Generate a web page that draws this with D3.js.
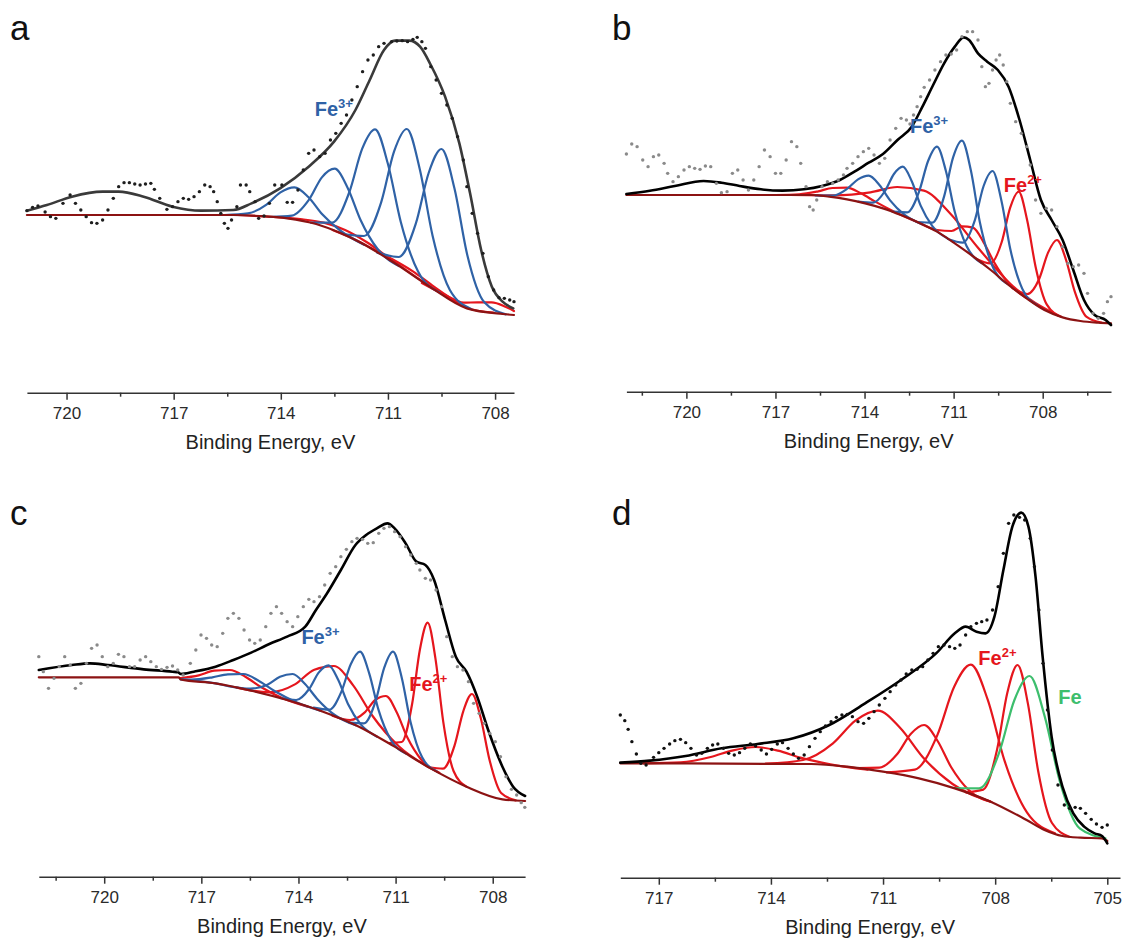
<!DOCTYPE html>
<html>
<head>
<meta charset="utf-8">
<script src="https://cdn.jsdelivr.net/npm/d3@7"></script>
<style>
  body { margin: 0; background: #fff; }
  svg { display: block; font-family: "Liberation Sans", Arial, Helvetica, sans-serif; }
</style>
</head>
<body>
<svg id="chart" width="1123" height="940"></svg>
<script>
// ---------------- DATA (binding energy in eV, intensity in a.u.) ----------------
const majorTicksABC = [720, 717, 714, 711, 708];
const majorTicksD = [717, 714, 711, 708, 705];
const minorTicksA = [718.5, 715.5, 712.5, 709.5];
const minorTicksB = [721.5, 718.5, 715.5, 712.5, 709.5, 706.5];
const minorTicksC = [721.5, 718.5, 715.5, 712.5, 709.5];
const minorTicksD = [715.5, 712.5, 709.5, 706.5];
const axisTitle = "Binding Energy, eV";

// ----- panel a -----
const aDots = [[721.11,313],[720.95,323],[720.80,327],[720.60,309],[720.45,295],[720.30,290],[720.10,335],[719.90,360],[719.75,335],[719.60,315],[719.45,295],[719.30,277],[719.15,275],[718.99,285],[718.84,315],[718.69,350],[718.54,385],[718.39,397],[718.24,397],[718.09,393],[717.94,390],[717.79,393],[717.64,395],[717.54,377],[717.39,350],[717.19,317],[717.03,325],[716.88,340],[716.73,350],[716.58,347],[716.43,355],[716.28,370],[716.13,390],[715.98,385],[715.88,370],[715.78,340],[715.68,305],[715.58,275],[715.48,260],[715.38,285],[715.23,325],[715.13,390],[714.97,390],[714.87,370],[714.72,340],[714.62,290],[714.47,297],[714.32,335],[714.17,390],[713.97,390],[713.82,338],[713.67,338],[713.52,375],[713.37,435],[713.22,485],[713.07,495],[712.91,475],[712.76,485],[712.61,525],[712.46,545],[712.31,575],[712.16,600],[712.01,645],[711.86,685],[711.71,730],[711.56,765],[711.41,780],[711.26,805],[711.11,815],[710.90,820],[710.75,822],[710.60,823],[710.45,820],[710.30,827],[710.18,833],[710.05,820],[709.95,800],[709.80,745],[709.65,705],[709.50,665],[709.35,630],[709.20,590],[709.05,535],[708.89,465],[708.79,385],[708.64,305],[708.49,245],[708.34,185],[708.19,115],[708.04,75],[707.89,52],[707.74,50],[707.59,45],[707.47,40]];
const aEnvelope = [[721.11,313],[720.55,330],[719.85,355],[718.99,370],[718.54,370],[717.84,355],[717.03,325],[716.23,313],[715.33,315],[714.82,335],[714.02,380],[713.22,445],[712.51,520],[711.91,615],[711.51,705],[711.11,795],[710.80,823],[710.40,823],[710.10,805],[709.80,750],[709.40,655],[709.00,515],[708.70,365],[708.39,195],[708.09,85],[707.79,40],[707.49,20]];
const aBackground = [[721.11,300],[715.33,300],[714.62,297],[713.82,290],[713.01,273],[712.31,245],[711.81,220],[710.80,155],[709.80,83],[708.79,20],[707.79,3],[707.47,0]];
const aFe3 = [
  [[715.57,300],[714.92,305],[714.40,331],[714.01,368],[713.62,383],[713.23,354],[712.84,302],[712.32,252],[711.67,211]],
  [[714.29,294],[713.69,298],[713.21,346],[712.85,413],[712.49,439],[712.13,382],[711.77,286],[711.29,198],[710.69,147]],
  [[713.16,277],[712.56,277],[712.08,369],[711.72,499],[711.36,557],[711.00,453],[710.64,279],[710.16,131],[709.56,68]],
  [[712.27,243],[711.67,237],[711.19,338],[710.83,490],[710.47,558],[710.11,438],[709.75,238],[709.27,76],[708.67,18]],
  [[711.30,187],[710.70,174],[710.22,274],[709.86,426],[709.50,498],[709.14,381],[708.78,181],[708.30,38],[707.70,2]]
];
const aFe2 = [
  [[715.2,300],[714.2,294],[713.4,287],[712.8,277],[712.2,255],[711.6,219],[711.0,174],[710.2,113],[709.2,46]],
  [[712.55,255],[711.8,220],[711.2,185],[710.75,160],[710.3,131],[709.85,96],[709.4,62],[708.8,22],[708.05,7]],
  [[710.05,96],[709.40,60],[708.88,37],[708.49,38],[708.10,38],[707.71,25],[707.47,12]]
];

// ----- panel b -----
const bDots = [[722.02,508],[721.84,538],[721.66,530],[721.47,490],[721.29,470],[721.11,500],[720.93,505],[720.75,480],[720.63,450],[720.45,425],[720.27,440],[720.08,460],[719.90,470],[719.72,465],[719.54,462],[719.36,472],[719.18,470],[718.99,420],[718.82,392],[718.63,395],[718.45,450],[718.27,460],[718.09,430],[717.91,400],[717.73,430],[717.55,470],[717.37,520],[717.18,500],[717.00,450],[716.82,450],[716.64,490],[716.46,545],[716.28,530],[716.15,480],[715.97,410],[715.85,350],[715.73,340],[715.61,370],[715.43,410],[715.25,425],[715.07,420],[714.89,430],[714.71,445],[714.59,465],[714.40,480],[714.22,500],[714.04,515],[713.86,525],[713.68,505],[713.50,480],[713.32,495],[713.14,550],[712.95,585],[712.77,615],[712.59,610],[712.47,598],[712.35,625],[712.23,650],[712.11,680],[711.99,708],[711.81,730],[711.63,760],[711.44,785],[711.26,805],[711.08,808],[710.90,820],[710.72,860],[710.54,875],[710.36,875],[710.18,850],[710.05,770],[709.93,710],[709.81,720],[709.69,760],[709.57,790],[709.45,805],[709.33,775],[709.21,725],[709.09,660],[708.91,605],[708.72,570],[708.54,530],[708.42,475],[708.24,370],[708.06,330],[707.88,345],[707.70,340],[707.52,290],[707.33,230],[707.15,180],[706.97,170],[706.79,175],[706.61,150],[706.49,90],[706.31,30],[706.13,15],[705.95,30],[705.82,65],[705.70,80]];
const bEnvelope = [[722.02,388],[721.23,398],[720.39,412],[719.42,427],[718.82,422],[718.21,412],[717.49,402],[716.76,398],[716.04,402],[715.43,412],[714.83,430],[714.34,455],[713.86,482],[713.38,508],[712.89,550],[712.41,590],[712.05,650],[711.69,715],[711.32,780],[710.96,830],[710.66,858],[710.48,850],[710.18,810],[709.87,785],[709.51,760],[709.15,710],[708.78,610],[708.42,490],[708.06,370],[707.70,310],[707.33,250],[706.97,160],[706.61,70],[706.25,25],[705.88,10],[705.70,-5]];
const bBackground = [[722.02,385],[715.79,385],[715.19,380],[714.59,372],[713.98,360],[713.38,345],[712.77,325],[712.17,302],[711.56,275],[710.96,240],[710.36,202],[709.75,160],[709.15,115],[708.54,75],[707.94,40],[707.33,18],[706.73,7],[706.13,2],[705.70,0]];
const bFe3 = [
  [[715.66,384],[715.06,383],[714.58,404],[714.22,432],[713.86,443],[713.50,415],[713.14,369],[712.66,326],[712.06,297]],
  [[714.21,365],[713.71,362],[713.31,397],[713.01,448],[712.71,470],[712.41,426],[712.11,353],[711.71,291],[711.21,255]],
  [[713.06,335],[712.56,333],[712.16,396],[711.86,487],[711.56,530],[711.26,457],[710.96,334],[710.56,231],[710.06,181]],
  [[712.22,304],[711.72,302],[711.32,381],[711.02,497],[710.72,548],[710.42,459],[710.12,305],[709.72,178],[709.22,120]],
  [[711.19,253],[710.69,242],[710.29,308],[709.99,412],[709.69,457],[709.39,368],[709.09,222],[708.69,104],[708.19,55]]
];
const bFe2 = [
  [[717.0,385],[716.2,387],[715.56,396],[715.08,406],[714.60,407],[714.12,390],[713.64,365],[713.0,335],[712.2,303]],
  [[716.5,385],[715.0,384],[713.8,393],[712.9,409],[712.0,398],[711.1,328],[710.2,229],[709.0,111],[707.5,24]],
  [[712.15,301],[711.55,280],[711.07,277],[710.71,291],[710.35,287],[709.99,243],[709.63,182],[709.15,120],[708.55,76]],
  [[710.24,194],[709.76,180],[709.38,244],[709.095,347],[708.81,395],[708.525,310],[708.24,170],[707.86,56],[707.38,20]],
  [[709.02,106],[708.52,88],[708.12,133],[707.82,212],[707.52,250],[707.22,192],[706.92,95],[706.52,19],[706.02,2]]
];

// ----- panel c -----
const cDots = [[722.02,435],[721.88,390],[721.72,340],[721.55,370],[721.39,405],[721.22,435],[721.05,410],[720.89,340],[720.72,355],[720.55,415],[720.39,460],[720.22,470],[720.06,435],[719.89,405],[719.72,415],[719.56,442],[719.39,435],[719.22,405],[719.06,405],[718.89,425],[718.72,435],[718.56,420],[718.39,405],[718.23,397],[718.06,403],[717.89,407],[717.73,395],[717.56,380],[717.34,415],[717.17,455],[717.01,500],[716.84,490],[716.68,470],[716.51,465],[716.34,505],[716.18,550],[716.01,565],[715.84,550],[715.68,515],[715.51,485],[715.35,475],[715.18,485],[715.01,525],[714.85,565],[714.68,585],[714.52,565],[714.35,540],[714.18,525],[714.02,555],[713.85,585],[713.68,607],[713.52,600],[713.35,615],[713.19,650],[713.02,685],[712.85,705],[712.69,735],[712.52,757],[712.35,780],[712.19,790],[712.02,787],[711.86,775],[711.69,777],[711.52,805],[711.36,820],[711.19,825],[711.03,810],[710.86,795],[710.69,765],[710.53,740],[710.36,715],[710.25,695],[710.08,670],[709.92,665],[709.75,635],[709.58,585],[709.42,495],[709.25,435],[709.09,405],[708.92,395],[708.75,360],[708.59,295],[708.42,265],[708.26,235],[708.09,205],[707.92,180],[707.76,135],[707.59,75],[707.42,37],[707.26,20],[707.12,-3],[707.01,-17]];
const cEnvelope = [[722.02,395],[721.0,410],[720.44,415],[719.89,410],[718.78,397],[717.89,390],[717.71,388],[717.64,383],[717.23,390],[716.56,405],[716.01,425],[715.46,447],[714.90,473],[714.35,495],[713.79,525],[713.46,575],[713.13,623],[712.69,695],[712.24,770],[711.91,800],[711.58,820],[711.25,835],[711.03,820],[710.69,775],[710.36,720],[710.08,710],[709.81,665],[709.47,545],[709.14,435],[708.81,390],[708.48,315],[708.14,215],[707.70,105],[707.37,45],[707.0,17]];
const cBackground = [[722.02,373],[717.70,373],[717.64,367],[716.56,355],[715.46,333],[714.35,305],[713.24,270],[712.13,225],[711.03,165],[709.92,100],[708.81,45],[707.70,7],[707.0,2]];
const cFe3 = [
  [[717.64,368],[717.30,366],[716.66,373],[716.18,382],[715.70,383],[715.22,362],[714.74,332],[714.10,300],[713.30,272]],
  [[717.64,367],[716.56,355],[716.13,346],[715.48,339],[714.96,351],[714.57,375],[714.18,383],[713.79,352],[713.40,306],[712.88,260],[712.23,229]],
  [[714.57,311],[714.07,305],[713.67,338],[713.37,388],[713.07,409],[712.77,365],[712.47,293],[712.07,231],[711.57,195]],
  [[713.53,282],[713.05,276],[712.67,331],[712.385,412],[712.10,450],[711.815,385],[711.53,276],[711.15,186],[710.67,144]],
  [[712.43,237],[711.98,235],[711.62,301],[711.35,402],[711.08,450],[710.81,372],[710.54,240],[710.18,133],[709.73,91]]
];
const cFe2 = [
  [[717.64,371],[717.08,379],[716.60,393],[716.12,395],[715.64,375],[715.16,344],[714.52,312],[713.72,285]],
  [[715.91,342],[714.91,328],[714.11,352],[713.51,396],[712.91,407],[712.31,349],[711.71,257],[710.91,167],[709.91,100]],
  [[712.95,258],[712.40,245],[711.96,267],[711.63,305],[711.30,317],[710.97,269],[710.64,193],[710.20,125],[709.65,87]],
  [[711.21,176],[710.81,179],[710.49,293],[710.25,456],[710.01,537],[709.77,430],[709.53,241],[709.21,92],[708.81,45]],
  [[709.99,104],[709.54,99],[709.18,168],[708.91,271],[708.64,323],[708.37,251],[708.10,126],[707.74,26],[707.29,4]]
];

// ----- panel d -----
const dDots = [[718.03,370],[717.91,353],[717.82,327],[717.72,290],[717.60,253],[717.48,225],[717.34,220],[717.14,243],[717.0,257],[716.86,270],[716.71,283],[716.57,293],[716.42,297],[716.28,287],[716.14,270],[715.99,250],[715.85,255],[715.70,270],[715.56,280],[715.42,283],[715.27,270],[715.13,255],[714.98,250],[714.84,257],[714.70,270],[714.55,283],[714.41,277],[714.26,265],[714.12,253],[713.98,267],[713.83,283],[713.69,287],[713.54,270],[713.40,253],[713.26,240],[713.11,250],[712.97,275],[712.82,300],[712.68,320],[712.54,337],[712.39,350],[712.25,363],[712.10,370],[711.96,372],[711.82,365],[711.67,350],[711.52,345],[711.38,360],[711.24,380],[711.10,400],[710.95,420],[710.81,440],[710.66,460],[710.52,475],[710.38,493],[710.23,505],[710.09,507],[709.94,515],[709.80,535],[709.66,555],[709.52,575],[709.37,580],[709.22,575],[709.08,570],[708.94,580],[708.79,610],[708.65,635],[708.50,645],[708.36,650],[708.22,655],[708.07,685],[707.92,755],[707.78,855],[707.64,945],[707.50,970],[707.35,963],[707.21,955],[707.06,900],[706.95,815],[706.83,685],[706.72,525],[706.60,385],[706.47,265],[706.32,160],[706.15,100],[706.01,90],[705.86,93],[705.72,90],[705.58,75],[705.43,57],[705.29,43],[705.14,33],[705.0,40]];
const dEnvelope = [[718.03,227],[717.24,233],[716.28,247],[715.32,270],[714.36,283],[713.40,300],[712.44,340],[711.48,405],[710.52,475],[709.56,557],[709.08,615],[708.79,635],[708.50,620],[708.26,615],[708.02,665],[707.78,805],[707.54,935],[707.30,977],[707.11,935],[706.92,785],[706.73,545],[706.49,305],[706.20,155],[705.91,75],[705.62,35],[705.34,15],[705.14,7],[705.0,-15]];
const dBackground = [[718.03,225],[712.92,223],[711.96,215],[711.0,200],[710.04,180],[709.08,150],[708.12,110],[707.16,55],[706.68,25],[706.20,7],[705.72,2],[705.14,0],[705.0,-8]];
const dFe2 = [
  [[717.41,225],[716.41,228],[715.61,244],[715.01,264],[714.41,274],[713.81,263],[713.21,242],[712.41,222],[711.41,206]],
  [[714.14,224],[713.14,235],[712.34,285],[711.74,353],[711.14,383],[710.54,331],[709.94,244],[709.14,163],[708.14,111]],
  [[711.70,211],[711.10,212],[710.62,253],[710.26,313],[709.90,340],[709.54,292],[709.18,214],[708.70,144],[708.10,109]],
  [[710.90,198],[710.15,206],[709.55,309],[709.10,454],[708.65,521],[708.20,416],[707.75,233],[707.15,78],[706.40,15]],
  [[708.78,138],[708.32,146],[707.95,266],[707.676,436],[707.40,520],[707.124,404],[706.85,202],[706.48,46],[706.02,5]]
];
const dFe0 = [
  [[709.11,151],[708.43,150],[707.89,258],[707.485,415],[707.08,487],[706.675,366],[706.27,171],[705.73,29],[705.05,0]]
];

// ---------------- STYLE ----------------
const BLUE = "#2f62a6", RED = "#e5161d", DARKRED = "#8c1313", GREEN = "#3dbe6d";

const panels = [
  { letter: "a", letterPos: [10, 40], xDomain: [721.11, 707.47], xRange: [26.9, 514], yBottom: 315, axisY: 392.7,
    major: majorTicksABC, minor: minorTicksA, dots: aDots, dotColor: "#1e1e1e", env: aEnvelope, envColor: "#3a3a3a",
    bg: aBackground, groups: [{ data: aFe2, color: RED }, { data: aFe3, color: BLUE }],
    labels: [{ at: [713.05, 597], text: "Fe", sup: "3+", color: BLUE }] },
  { letter: "b", letterPos: [612, 40], xDomain: [722.02, 705.70], xRange: [626.4, 1111], yBottom: 323.33, axisY: 391.7,
    major: majorTicksABC, minor: minorTicksB, dots: bDots, dotColor: "#8a8a8a", env: bEnvelope, envColor: "#000",
    bg: bBackground, groups: [{ data: bFe2, color: RED }, { data: bFe3, color: BLUE }],
    labels: [{ at: [712.47, 570], text: "Fe", sup: "3+", color: BLUE }, { at: [709.31, 393], text: "Fe", sup: "2+", color: RED }] },
  { letter: "c", letterPos: [10, 525], xDomain: [722.02, 707.0], xRange: [38.8, 525.1], yBottom: 801.67, axisY: 876.7,
    major: majorTicksABC, minor: minorTicksC, dots: cDots, dotColor: "#8a8a8a", env: cEnvelope, envColor: "#000",
    bg: cBackground, groups: [{ data: cFe2, color: RED }, { data: cFe3, color: BLUE }],
    labels: [{ at: [713.91, 473], text: "Fe", sup: "3+", color: BLUE }, { at: [710.58, 333], text: "Fe", sup: "2+", color: RED }] },
  { letter: "d", letterPos: [612, 525], xDomain: [718.03, 704.66], xRange: [620.3, 1120], yBottom: 838.33, axisY: 877.7,
    major: majorTicksD, minor: minorTicksD, dots: dDots, dotColor: "#111", env: dEnvelope, envColor: "#000",
    bg: dBackground, groups: [{ data: dFe2, color: RED }, { data: dFe0, color: GREEN }],
    labels: [{ at: [708.45, 520], text: "Fe", sup: "2+", color: RED }, { at: [706.31, 403], text: "Fe", sup: null, color: GREEN }] }
];

const svg = d3.select("#chart");
svg.append("rect").attr("width", 1123).attr("height", 940).attr("fill", "#fff");

panels.forEach(p => {
  const g = svg.append("g");
  const x = d3.scaleLinear().domain(p.xDomain).range(p.xRange);
  const y = d3.scaleLinear().domain([0, 900]).range([p.yBottom, p.yBottom - 300]);
  const line = d3.line().x(d => x(d[0])).y(d => y(d[1])).curve(d3.curveMonotoneX);

  // fitted components
  p.groups.forEach(gr => {
    g.append("g").selectAll("path").data(gr.data).join("path")
      .attr("d", line).attr("fill", "none").attr("stroke", gr.color)
      .attr("stroke-width", 2.2).attr("stroke-linejoin", "round").attr("stroke-linecap", "round");
  });
  // background
  g.append("path").attr("d", line(p.bg)).attr("fill", "none").attr("stroke", DARKRED)
    .attr("stroke-width", 2.2).attr("stroke-linecap", "round");
  // envelope
  g.append("path").attr("d", line(p.env)).attr("fill", "none").attr("stroke", p.envColor)
    .attr("stroke-width", 2.6).attr("stroke-linejoin", "round").attr("stroke-linecap", "round");
  // experimental points
  g.append("g").selectAll("circle").data(p.dots).join("circle")
    .attr("cx", d => x(d[0])).attr("cy", d => y(d[1])).attr("r", 1.7).attr("fill", p.dotColor);

  // axes
  const ax = g.append("g").attr("transform", `translate(0,${p.axisY})`)
    .call(d3.axisBottom(x).tickValues(p.major).tickSize(7).tickSizeOuter(0).tickPadding(7).tickFormat(d3.format("d")));
  ax.select(".domain").attr("stroke", "#333").attr("stroke-width", 1.6);
  ax.selectAll(".tick line").attr("stroke", "#333").attr("stroke-width", 1.5);
  ax.selectAll(".tick text").attr("font-size", 17).attr("fill", "#2a2a2a")
    .attr("font-family", '"Liberation Sans", Arial, sans-serif');
  const axm = g.append("g").attr("transform", `translate(0,${p.axisY})`)
    .call(d3.axisBottom(x).tickValues(p.minor).tickSize(4).tickSizeOuter(0).tickFormat(""));
  axm.select(".domain").remove();
  axm.selectAll(".tick line").attr("stroke", "#333").attr("stroke-width", 1.5);

  g.append("text").attr("x", (p.xRange[0] + p.xRange[1]) / 2).attr("y", p.axisY + 56)
    .attr("text-anchor", "middle").attr("font-size", 20).attr("fill", "#222").text(axisTitle);

  // annotations
  p.labels.forEach(l => {
    const t = g.append("text").attr("x", x(l.at[0])).attr("y", y(l.at[1]))
      .attr("fill", l.color).attr("font-weight", "bold").attr("font-size", 20);
    t.append("tspan").text(l.text);
    if (l.sup) t.append("tspan").attr("font-size", 13).attr("dy", -8).text(l.sup);
  });

  // panel letter
  svg.append("text").attr("x", p.letterPos[0]).attr("y", p.letterPos[1])
    .attr("font-size", 35).attr("fill", "#111").text(p.letter);
});
</script>
</body>
</html>
